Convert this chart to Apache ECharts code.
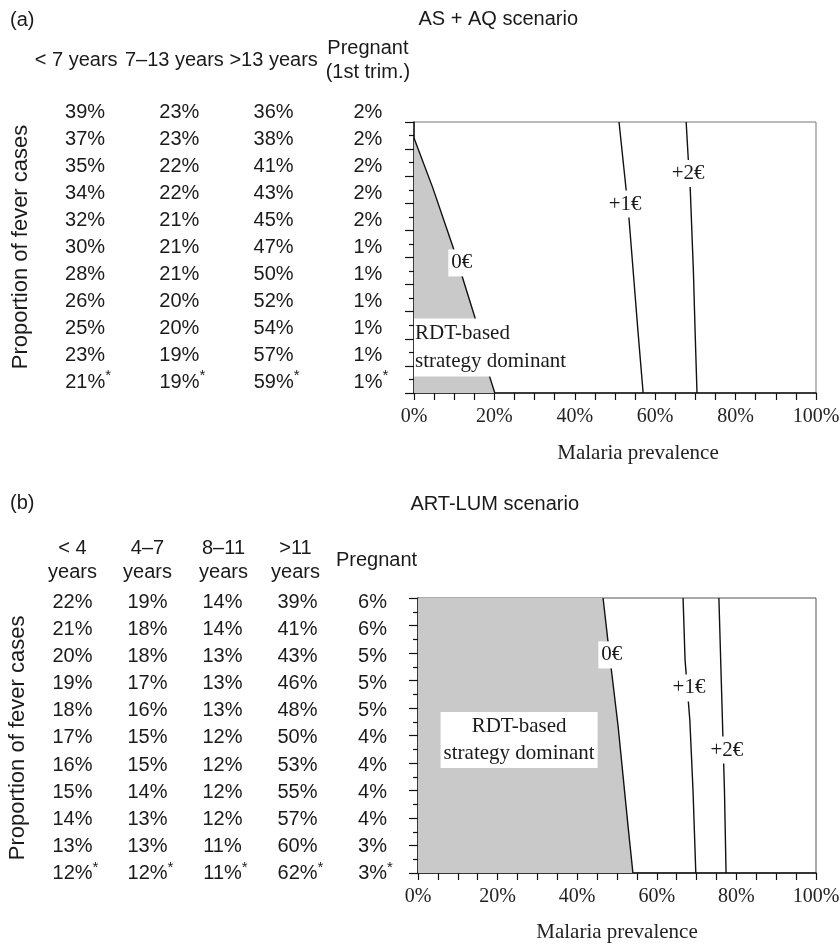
<!DOCTYPE html>
<html>
<head>
<meta charset="utf-8">
<script src="https://cdn.jsdelivr.net/npm/echarts@6/dist/echarts.min.js"></script>
<style>
  html, body { margin: 0; padding: 0; background: #fff; }
  #chart { width: 840px; height: 944px; }
</style>
</head>
<body>
<div id="chart"></div>
<script>
// (a) AS + AQ scenario: age distribution of fever cases, one row per y tick
var headersA = ["< 7 years", "7\u201313 years", ">13 years", "Pregnant\n(1st trim.)"];
var under7A = [39, 37, 35, 34, 32, 30, 28, 26, 25, 23, 21];
var age7to13A = [23, 23, 22, 22, 21, 21, 21, 20, 20, 19, 19];
var over13A = [36, 38, 41, 43, 45, 47, 50, 52, 54, 57, 59];
var pregnantA = [2, 2, 2, 2, 2, 1, 1, 1, 1, 1, 1];

// (b) ART-LUM scenario
var headersB = ["< 4\nyears", "4\u20137\nyears", "8\u201311\nyears", ">11\nyears", "Pregnant"];
var under4B = [22, 21, 20, 19, 18, 17, 16, 15, 14, 13, 12];
var age4to7B = [19, 18, 18, 17, 16, 15, 15, 14, 13, 13, 12];
var age8to11B = [14, 14, 13, 13, 13, 12, 12, 12, 12, 11, 11];
var over11B = [39, 41, 43, 46, 48, 50, 53, 55, 57, 60, 62];
var pregnantB = [6, 6, 5, 5, 5, 4, 4, 4, 4, 3, 3];

var rowIds = ["0", "1", "2", "3", "4", "5", "6", "7", "8", "9", "10"];
var xTicks = [0, 20, 40, 60, 80, 100];

// contour lines [prevalence %, row position (0 = bottom row, 10 = top row)]
var zeroA = [[0, 9.41], [4.7, 7.56], [9.7, 5.39], [15.2, 2.77], [18.7, 0.66], [20.1, 0]];
var plusOneA = [[51.0, 10], [52.7, 7.6], [53.5, 6.4], [54.7, 4.17], [55.7, 2.3], [57.0, 0]];
var plusTwoA = [[67.7, 10], [68.2, 8.7], [68.7, 7.6], [69.5, 4.5], [69.9, 2.4], [70.4, 0]];
var zeroB = [[46.5, 10], [47.7, 8.47], [48.5, 7.49], [50.3, 5.31], [52.8, 1.67], [54.0, 0]];
var plusOneB = [[66.6, 10], [67.1, 7.75], [68.3, 5.56], [69.1, 3.0], [69.8, 0]];
var plusTwoB = [[75.6, 10], [76.1, 7.5], [76.6, 5.0], [77.0, 3.0], [77.4, 0]];

var contourLabelsA = [[11.9, 4.8, "0\u20ac"], [52.5, 6.97, "+1\u20ac"], [68.2, 8.1, "+2\u20ac"]];
var contourLabelsB = [[48.7, 7.93, "0\u20ac"], [68.1, 6.73, "+1\u20ac"], [77.6, 4.47, "+2\u20ac"]];
var dominantA = [0, 1.68];
var dominantB = [25.4, 4.84];
var dominantText = "RDT-based\nstrategy dominant";

var SANS = "Liberation Sans, Arial, sans-serif";
var SERIF = "Liberation Serif, Times New Roman, serif";
var INK = "#1a1a1a";

var chart = echarts.init(document.getElementById("chart"));

function tableData(cols) {
  var out = [];
  cols.forEach(function (col, ci) {
    col.forEach(function (v, ri) {
      var item = { value: [ci, ri, v] };
      if (ri === col.length - 1) item.label = { padding: [0, 0, 0, 6] };
      out.push(item);
    });
  });
  return out;
}

function tableSeries(idx, cols) {
  return {
    type: "scatter",
    xAxisIndex: idx, yAxisIndex: idx,
    symbolSize: 0,
    silent: true,
    itemStyle: { opacity: 1 },
    data: tableData(cols),
    label: {
      show: true,
      position: "inside",
      formatter: function (p) {
        var last = p.value[1] === rowIds.length - 1;
        return "{v|" + p.value[2] + "%}" + (last ? "{s|*}" : "");
      },
      rich: {
        v: { fontFamily: SANS, fontSize: 20, color: INK },
        s: { fontFamily: SANS, fontSize: 15, color: INK, padding: [0, 0, 12, 0] }
      }
    }
  };
}

var headerStyle = { fontFamily: SANS, fontSize: 20, lineHeight: 24, color: INK, verticalAlign: "middle" };

// header labels sit slightly off the column centres in the original
function headerItems(headers, shifts) {
  return headers.map(function (h, i) {
    var s = shifts[i] || 0;
    return {
      value: h,
      textStyle: Object.assign({}, headerStyle, { padding: s < 0 ? [0, -2 * s, 0, 0] : [0, 0, 0, 2 * s] })
    };
  });
}

function tableAxes(idx, headers, shifts, margin) {
  return {
    x: {
      type: "category", gridIndex: idx, position: "top", data: headerItems(headers, shifts),
      axisLine: { show: false }, axisTick: { show: false }, splitLine: { show: false },
      axisLabel: Object.assign({ interval: 0, margin: margin }, headerStyle)
    },
    y: {
      type: "category", gridIndex: idx, inverse: true, data: rowIds,
      axisLine: { show: false }, axisTick: { show: false }, axisLabel: { show: false },
      name: "Proportion of fever cases", nameLocation: "middle", nameGap: 6,
      nameTextStyle: { fontFamily: SANS, fontSize: 22, color: INK }
    }
  };
}

function plotAxes(idx, namePad, nameGap) {
  return {
    x: {
      type: "value", gridIndex: idx, min: xTicks[0], max: xTicks[xTicks.length - 1], interval: 20,
      axisLine: { lineStyle: { color: "#111", width: 1.5 } },
      axisTick: { length: 7, lineStyle: { color: "#111", width: 1.2 } },
      minorTick: { show: true, splitNumber: 4, length: 7, lineStyle: { color: "#111", width: 1.2 } },
      splitLine: { show: false },
      axisLabel: { margin: 14, fontFamily: SERIF, fontSize: 20, color: "#222", formatter: "{value}%" },
      name: "Malaria prevalence", nameLocation: "middle", nameGap: nameGap,
      nameTextStyle: { fontFamily: SERIF, fontSize: 21, color: "#222", padding: [0, 0, 0, namePad] }
    },
    y: {
      type: "value", gridIndex: idx, min: 0, max: 10, interval: 1,
      axisLine: { lineStyle: { color: "#111", width: 1.5 } },
      axisTick: { length: 9, lineStyle: { color: "#111", width: 1.2 } },
      minorTick: { show: true, splitNumber: 2, length: 5, lineStyle: { color: "#111", width: 1.2 } },
      splitLine: { show: false },
      axisLabel: { show: false }
    }
  };
}

function regionSeries(idx, poly) {
  return {
    type: "custom", xAxisIndex: idx, yAxisIndex: idx, silent: true, z: 1,
    data: [poly[0]],
    renderItem: function (params, api) {
      return {
        type: "polygon",
        shape: { points: poly.map(function (p) { return api.coord(p); }) },
        style: { fill: "#c9c9c9" }
      };
    }
  };
}

function lineSeries(idx, pts) {
  return {
    type: "line", xAxisIndex: idx, yAxisIndex: idx, data: pts, silent: true, z: 3,
    symbol: "none", lineStyle: { color: "#111", width: 1.4 }
  };
}

function labelSeries(idx, pts, extra) {
  return {
    type: "scatter", xAxisIndex: idx, yAxisIndex: idx, symbolSize: 0, silent: true, z: 5,
    itemStyle: { opacity: 1 },
    data: pts,
    label: Object.assign({
      show: true, position: "inside",
      formatter: function (p) { return p.value[2]; },
      backgroundColor: "#fff", padding: [3, 3],
      fontFamily: SERIF, fontSize: 21, color: INK
    }, extra || {})
  };
}

var tA = tableAxes(0, headersA, [-9, -5, 0, 0], 38);
var pA = plotAxes(1, 46, 50);
var tB = tableAxes(2, headersB, [0, 0, 1, -2, 4], 28);
var pB = plotAxes(3, 0, 49);

chart.setOption({
  animation: false,
  backgroundColor: "#fff",
  title: [
    { text: "(a)", left: 10, top: 10, padding: 0, textStyle: { fontFamily: SANS, fontSize: 20, fontWeight: "normal", color: INK } },
    { text: "AS + AQ scenario", right: 262, top: 9, padding: 0, textStyle: { fontFamily: SANS, fontSize: 20, fontWeight: "normal", color: INK } },
    { text: "(b)", left: 10, top: 493, padding: 0, textStyle: { fontFamily: SANS, fontSize: 20, fontWeight: "normal", color: INK } },
    { text: "ART-LUM scenario", right: 261, top: 494, padding: 0, textStyle: { fontFamily: SANS, fontSize: 20, fontWeight: "normal", color: INK } }
  ],
  grid: [
    { left: 38, width: 377, top: 98.5, height: 297, outerBoundsMode: "none" },
    { left: 414, right: 24, top: 122, height: 271, show: true, borderColor: "#777", borderWidth: 1, backgroundColor: "#fff", outerBoundsMode: "none" },
    { left: 35, width: 375, top: 588.4, height: 299, outerBoundsMode: "none" },
    { left: 418, right: 24, top: 598, height: 275, show: true, borderColor: "#555", borderWidth: 1, backgroundColor: "#fff", outerBoundsMode: "none" }
  ],
  xAxis: [tA.x, pA.x, tB.x, pB.x],
  yAxis: [tA.y, pA.y, tB.y, pB.y],
  series: [
    tableSeries(0, [under7A, age7to13A, over13A, pregnantA]),
    regionSeries(1, [[0, 0]].concat(zeroA)),
    lineSeries(1, zeroA),
    lineSeries(1, plusOneA),
    lineSeries(1, plusTwoA),
    labelSeries(1, contourLabelsA),
    labelSeries(1, [dominantA.concat([dominantText])], { align: "left", lineHeight: 28, padding: [1, 4, 1, 1] }),

    tableSeries(2, [under4B, age4to7B, age8to11B, over11B, pregnantB]),
    regionSeries(3, [[0, 0], [0, 10]].concat(zeroB)),
    lineSeries(3, zeroB),
    lineSeries(3, plusOneB),
    lineSeries(3, plusTwoB),
    labelSeries(3, contourLabelsB),
    labelSeries(3, [dominantB.concat([dominantText])], { lineHeight: 27, padding: [1, 3] })
  ]
});
</script>
</body>
</html>
